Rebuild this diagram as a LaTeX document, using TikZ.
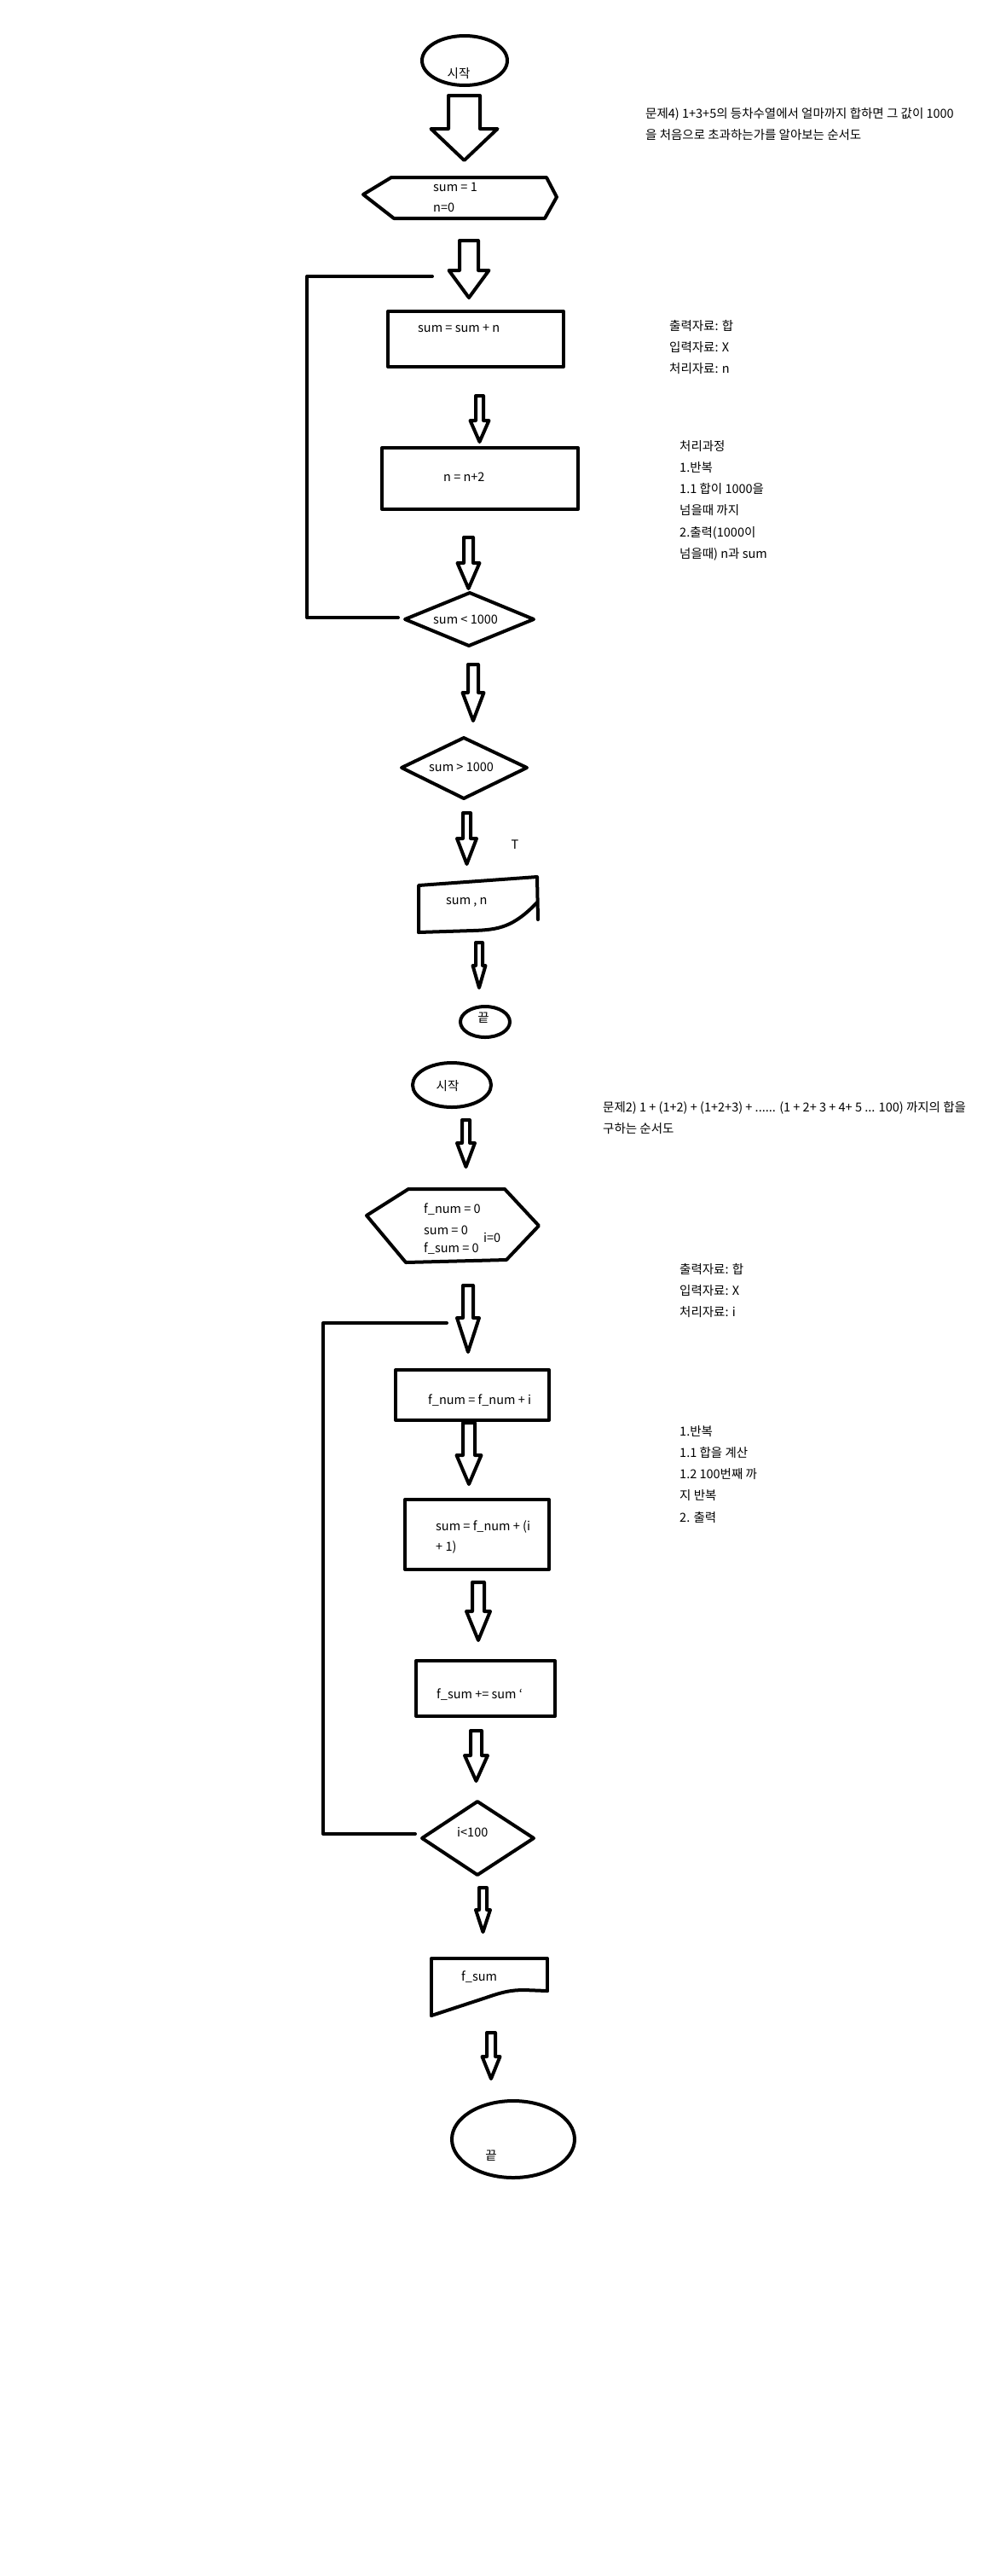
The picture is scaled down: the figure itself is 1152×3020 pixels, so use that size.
\documentclass[tikz,border=0pt]{standalone}
\usepackage{fontspec}
\setmainfont{Noto Sans CJK KR}
\usepackage{tikz}
\usetikzlibrary{
    positioning,
    calc
}

% hollow down arrow: centre x, top, neck, tip, shaft half width, head half width
\newcommand{\blockarrow}[6]{%
    \draw[sketch] ({#1-#5},#2) -- ({#1+#5},#2) -- ({#1+#5},#3) -- ({#1+#6},#3)
        -- (#1,#4) -- ({#1-#6},#3) -- ({#1-#5},#3) -- cycle;}

\begin{document}
\begin{tikzpicture}[x=1pt, y=-1pt,
        sketch/.style={line width=4pt, line join=round, line cap=round},
        txt/.style={font=\fontsize{14.5}{25.2}\selectfont, inner sep=0pt, anchor=west},
        note/.style={txt, align=left, anchor=north west}]
    \fill[white] (0,0) rectangle (1152,3020);
    \useasboundingbox (0,0) rectangle (1152,3020);

    % ---- 문제4 ----
    \coordinate (start1) at (545,71);
    \draw[sketch] (start1) ellipse [x radius=50pt, y radius=29pt];
    \node[txt, anchor=center] (t-start1) at (538,86) {시작};

    \blockarrow{544.5}{112}{151}{188}{18.5}{39}

    \draw[sketch] (459,208) -- (641,208) -- (653,231) -- (639,256) -- (462,256) -- (426,228) -- cycle;
    \node[txt] (t-init1a) at (508,219) {sum = 1};
    \node[txt] (t-init1b) at (508,243) {n=0};

    \blockarrow{550}{282}{317}{349}{11}{23.5}

    \draw[sketch] (455,365) rectangle (661,430);
    \node[txt] (t-add1) at (490,385) {sum = sum + n};

    \blockarrow{562.5}{464}{493}{518}{4.5}{11}

    \draw[sketch] (448,525) rectangle (678,597);
    \node[txt] (t-step1) at (520,559) {n = n+2};

    \blockarrow{549.5}{630}{660}{690}{5.5}{13}

    \draw[sketch] (551,695) -- (626,726) -- (550,757) -- (475,726) -- cycle;
    \node[txt] (t-test1) at (508,726) {sum < 1000};

    % loop back
    \coordinate (loop1 in) at (507,324);
    \coordinate (loop1 out) at (467,724);
    \draw[sketch] (loop1 out) -- (360,724) -- (360,324) -- (loop1 in);

    \blockarrow{555}{779}{812}{845}{6}{12.5}

    \draw[sketch] (544,865) -- (618,900) -- (544,936) -- (471,900) -- cycle;
    \node[txt] (t-test2) at (503,899) {sum > 1000};

    \blockarrow{547.5}{953}{983}{1013}{4.5}{11.5}
    \node[txt, anchor=center] (t-true) at (604,990) {T};

    \draw[sketch] (491,1093) -- (491,1038) -- (630,1028) -- (631,1078);
    \draw[sketch] (630,1058) .. controls (602,1087) and (585,1090) .. (555,1091) -- (491,1093);
    \node[txt] (t-out1) at (523,1058) {sum , n};

    \blockarrow{562}{1105}{1132}{1158}{4}{7.5}

    \coordinate (end1) at (569,1198);
    \draw[sketch] (end1) ellipse [x radius=29pt, y radius=18pt];
    \node[txt, anchor=center] (t-end1) at (567,1193) {끝};

    % ---- 문제2 ----
    \coordinate (start2) at (530,1272);
    \draw[sketch] (start2) ellipse [x radius=46pt, y radius=26pt];
    \node[txt, anchor=center] (t-start2) at (525,1273) {시작};

    \blockarrow{546.5}{1313}{1340}{1368}{4.5}{10.5}

    \draw[sketch] (479,1394) -- (592,1394) -- (632,1437) -- (594,1477) -- (476,1480) -- (430,1425) -- cycle;
    \node[txt] (t-init2a) at (497,1418) {f\_num = 0};
    \node[txt] (t-init2b) at (497,1442) {sum = 0};
    \node[txt] (t-init2c) at (497,1464) {f\_sum = 0};
    \node[txt] (t-init2d) at (567,1451) {i=0};

    \blockarrow{549}{1507}{1545}{1585}{6}{13}

    \draw[sketch] (464,1606) rectangle (644,1665);
    \node[txt] (t-num) at (502,1642) {f\_num = f\_num + i};

    \blockarrow{550}{1668}{1706}{1740}{7}{14.5}

    \draw[sketch] (475,1758) rectangle (644,1840);
    \node[txt] (t-sum2a) at (511,1790) {sum = f\_num + (i};
    \node[txt] (t-sum2b) at (511,1814) {+ 1)};

    \blockarrow{561}{1855}{1889}{1923}{7}{14}

    \draw[sketch] (488,1947) rectangle (651,2012);
    \node[txt] (t-fsum) at (512,1987) {f\_sum += sum `};

    \blockarrow{558.5}{2029}{2058}{2088}{6.5}{13.5}

    \draw[sketch] (560,2112) -- (626,2155) -- (560,2198) -- (495,2155) -- cycle;
    \node[txt] (t-test3) at (536,2148) {i<100};

    % loop back
    \coordinate (loop2 in) at (524,1551);
    \coordinate (loop2 out) at (487,2150);
    \draw[sketch] (loop2 out) -- (379,2150) -- (379,1551) -- (loop2 in);

    \blockarrow{566.5}{2213}{2239}{2265}{4.5}{8.5}

    \draw[sketch] (506,2363) -- (506,2296) -- (642,2296) -- (642,2334);
    \draw[sketch] (506,2363) -- (570,2342) .. controls (590,2335) and (600,2333) .. (615,2333) -- (642,2334);
    \node[txt] (t-out2) at (541,2318) {f\_sum};

    \blockarrow{576}{2383}{2411}{2437}{5}{10.5}

    \coordinate (end2) at (602,2508);
    \draw[sketch] (end2) ellipse [x radius=72pt, y radius=45pt];
    \node[txt, anchor=center] (t-end2) at (576,2527) {끝};

    % ---- 설명 ----
    \node[note] (q4) at (757,126) {문제4) 1+3+5의 등차수열에서 얼마까지 합하면 그 값이 1000\\을 처음으로 초과하는가를 알아보는 순서도};
    \node[note] (data1) at (785,375) {출력자료: 합\\입력자료: X\\처리자료: n};
    \node[note] (proc1) at (797,516) {처리과정\\1.반복\\1.1 합이 1000을\\넘을때 까지\\2.출력(1000이\\넘을때) n과 sum};
    \node[note] (q2) at (707,1291) {문제2) 1 + (1+2) + (1+2+3) + ...... (1 + 2+ 3 + 4+ 5 ... 100) 까지의 합을\\구하는 순서도};
    \node[note] (data2) at (797,1481) {출력자료: 합\\입력자료: X\\처리자료: i};
    \node[note] (proc2) at (797,1671) {1.반복\\1.1 합을 계산\\1.2 100번째 까\\지 반복\\2. 출력};
\end{tikzpicture}
\end{document}
